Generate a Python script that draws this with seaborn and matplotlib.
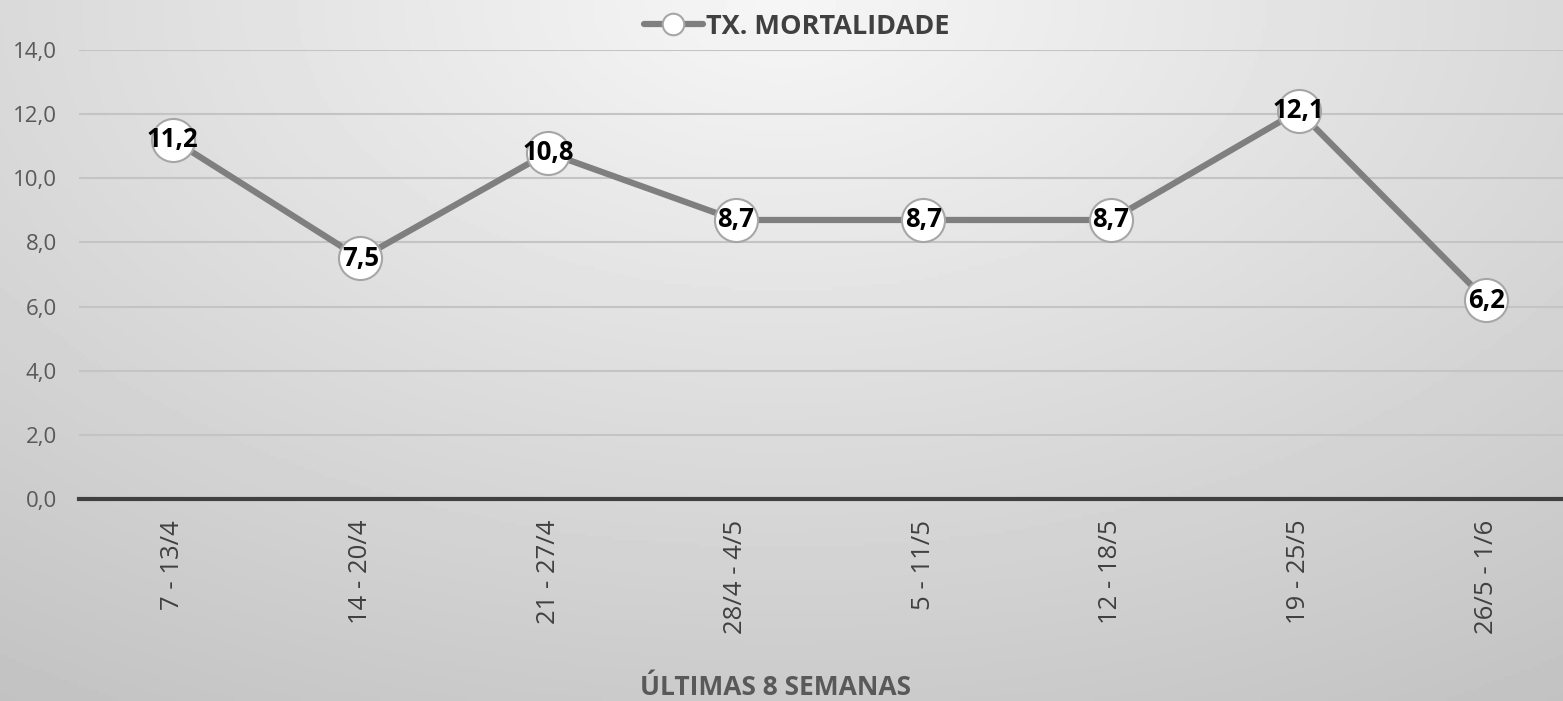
import numpy as np
import pandas as pd
import matplotlib
matplotlib.use("Agg")
import matplotlib.pyplot as plt
from matplotlib.ticker import FuncFormatter
import seaborn as sns

# Data
semanas = ["7 - 13/4", "14 - 20/4", "21 - 27/4", "28/4 - 4/5",
           "5 - 11/5", "12 - 18/5", "19 - 25/5", "26/5 - 1/6"]
mortalidade = [11.2, 7.5, 10.8, 8.7, 8.7, 8.7, 12.1, 6.2]
serie = "TX. MORTALIDADE"

df = pd.DataFrame({"semana": semanas, "taxa": mortalidade})

sns.set_theme(style="white")
plt.rcParams["font.family"] = ["Open Sans", "DejaVu Sans"]

fig = plt.figure(figsize=(15.63, 7.01), dpi=100)

# background radial gradient
bg = fig.add_axes([0, 0, 1, 1], zorder=-10)
yy, xx = np.mgrid[0:1:200j, 0:1:400j]
r = np.sqrt(((xx - 0.5) / 0.75) ** 2 + (yy / 1.0) ** 2)
shade = 0.965 - 0.17 * np.clip(r, 0, 1.2)
bg.imshow(shade, cmap="gray", vmin=0, vmax=1, aspect="auto",
          extent=[0, 1, 0, 1], origin="upper")
bg.axis("off")

ax = fig.add_axes([79 / 1563, 1 - 499 / 701, 1501 / 1563, 449 / 701])
ax.patch.set_alpha(0)

sns.lineplot(data=df, x="semana", y="taxa", ax=ax, sort=False,
             color="#7f7f7f", linewidth=4.5, marker="o", markersize=31,
             markerfacecolor="white", markeredgecolor="#a6a6a6",
             markeredgewidth=1.5, label=serie, zorder=3)

for i, v in enumerate(mortalidade):
    ax.text(i, v, f"{v:.1f}".replace(".", ","), ha="center", va="center",
            fontsize=18.5, fontweight="bold", color="black", zorder=5)

ax.set_ylim(0, 14)
ax.set_xlim(-0.5, len(semanas) - 0.5)
ax.set_yticks(np.arange(0, 15, 2))
ax.yaxis.set_major_formatter(FuncFormatter(lambda v, p: f"{v:.1f}".replace(".", ",")))
ax.grid(axis="y", color="#c4c4c4", linewidth=1.5, zorder=0)
ax.set_axisbelow(True)
for s in ["top", "right", "left"]:
    ax.spines[s].set_visible(False)
ax.spines["bottom"].set_color("#404040")
ax.spines["bottom"].set_linewidth(3)
ax.spines["bottom"].set_zorder(4)

ax.tick_params(axis="y", labelsize=16, labelcolor="#595959", length=0, pad=16)
ax.tick_params(axis="x", labelsize=18.5, labelcolor="#404040", length=0, pad=15,
               labelrotation=90)

ax.set_ylabel("")
ax.set_xlabel("")
fig.text(0.496, 0.0, "ÚLTIMAS 8 SEMANAS", ha="center", va="bottom",
         fontsize=19, fontweight="bold", color="#595959")

leg = ax.legend(loc="upper center", bbox_to_anchor=(0.478, 1.135), frameon=False,
                fontsize=19.5, handlelength=2.2, handletextpad=0.1, markerscale=0.5)
for t in leg.get_texts():
    t.set_fontweight("bold")
    t.set_color("#404040")

fig.savefig("out.png", dpi=100)
